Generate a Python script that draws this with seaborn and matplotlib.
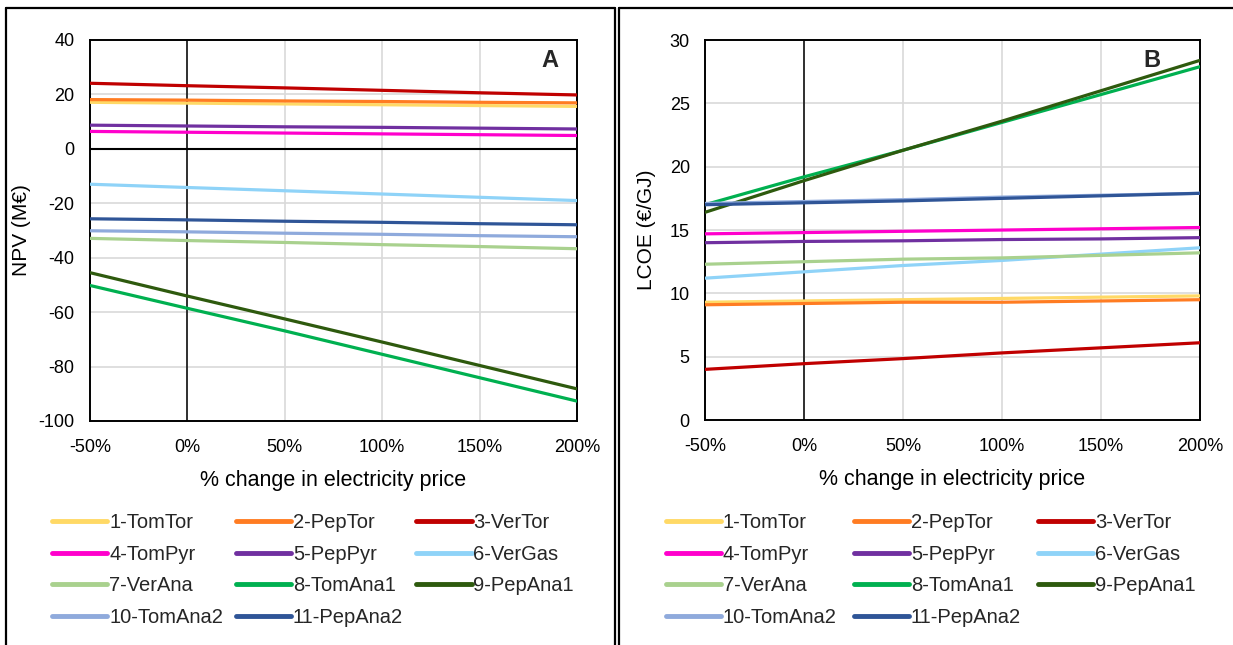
import matplotlib
matplotlib.use("Agg")
import matplotlib.pyplot as plt
from matplotlib.lines import Line2D
import pandas as pd
import seaborn as sns

# % change in electricity price
price_change = [-50, 0, 50, 100, 150, 200]

scenarios = [
    "1-TomTor", "2-PepTor", "3-VerTor", "4-TomPyr", "5-PepPyr", "6-VerGas",
    "7-VerAna", "8-TomAna1", "9-PepAna1", "10-TomAna2", "11-PepAna2",
]
colors = [
    "#FFD966", "#FF7C22", "#C00000", "#FF00CC", "#7030A0", "#8FD3F8",
    "#A9D18E", "#00B050", "#2E5A0E", "#8FAADC", "#2F5597",
]

# panel A: NPV (M€)
npv_tomtor = [17.1, 16.8, 16.5, 16.2, 15.9, 15.6]
npv_peptor = [18.1, 17.9, 17.6, 17.4, 17.1, 16.9]
npv_vertor = [24.1, 23.2, 22.4, 21.5, 20.6, 19.8]
npv_tompyr = [6.4, 6.1, 5.8, 5.5, 5.2, 4.9]
npv_peppyr = [8.7, 8.4, 8.1, 7.9, 7.6, 7.3]
npv_vergas = [-13.0, -14.2, -15.4, -16.6, -17.8, -19.0]
npv_verana = [-32.9, -33.7, -34.4, -35.2, -35.9, -36.7]
npv_tomana1 = [-50.2, -58.6, -66.9, -75.5, -84.1, -92.7]
npv_pepana1 = [-45.5, -54.1, -62.5, -71.0, -79.6, -88.2]
npv_tomana2 = [-30.1, -30.5, -31.0, -31.4, -31.9, -32.3]
npv_pepana2 = [-25.7, -26.1, -26.6, -27.0, -27.5, -27.9]

# panel B: LCOE (€/GJ)
lcoe_tomtor = [9.3, 9.4, 9.5, 9.6, 9.7, 9.8]
lcoe_peptor = [9.1, 9.2, 9.3, 9.3, 9.4, 9.5]
lcoe_vertor = [4.0, 4.45, 4.85, 5.3, 5.7, 6.1]
lcoe_tompyr = [14.7, 14.8, 14.9, 15.0, 15.1, 15.2]
lcoe_peppyr = [14.0, 14.1, 14.15, 14.25, 14.3, 14.4]
lcoe_vergas = [11.2, 11.7, 12.2, 12.6, 13.1, 13.6]
lcoe_verana = [12.3, 12.5, 12.7, 12.8, 13.0, 13.2]
lcoe_tomana1 = [17.0, 19.2, 21.3, 23.5, 25.7, 27.9]
lcoe_pepana1 = [16.4, 18.9, 21.3, 23.6, 26.0, 28.4]
lcoe_tomana2 = [17.1, 17.25, 17.4, 17.6, 17.75, 17.9]
lcoe_pepana2 = [17.0, 17.15, 17.3, 17.5, 17.7, 17.9]

npv_series = [npv_tomtor, npv_peptor, npv_vertor, npv_tompyr, npv_peppyr, npv_vergas,
              npv_verana, npv_tomana1, npv_pepana1, npv_tomana2, npv_pepana2]
lcoe_series = [lcoe_tomtor, lcoe_peptor, lcoe_vertor, lcoe_tompyr, lcoe_peppyr, lcoe_vergas,
               lcoe_verana, lcoe_tomana1, lcoe_pepana1, lcoe_tomana2, lcoe_pepana2]


def to_long(series_list, value_name):
    rows = []
    for name, values in zip(scenarios, series_list):
        for x, v in zip(price_change, values):
            rows.append({"scenario": name, "change": x, value_name: v})
    return pd.DataFrame(rows)


sns.set_theme(style="white")
plt.rcParams["font.family"] = ["Liberation Sans", "DejaVu Sans"]
plt.rcParams["axes.unicode_minus"] = False

fig = plt.figure(figsize=(12.33, 6.45), dpi=100)
ax_a = fig.add_axes([0.073, 0.3473, 0.395, 0.5907])
ax_b = fig.add_axes([0.5718, 0.3488, 0.4015, 0.5891])

palette = dict(zip(scenarios, colors))
panels = [
    (ax_a, to_long(npv_series, "npv"), "npv", "NPV (M€)", (-100, 40), range(-100, 41, 20),
     "A", 0.945, -0.121, 0.0422, 0.65),
    (ax_b, to_long(lcoe_series, "lcoe"), "lcoe", "LCOE (€/GJ)", (0, 30), range(0, 31, 5),
     "B", 0.903, -0.099, 0.540, 0.85),
]

for ax, df, col, ylabel, ylim, yticks, tag, tag_x, ylab_x, leg_x, col_sp in panels:
    sns.lineplot(data=df, x="change", y=col, hue="scenario", palette=palette,
                 hue_order=scenarios, linewidth=2.3, legend=False, ax=ax, zorder=3)
    handles = [Line2D([], [], color=c, linewidth=3.5) for c in colors]
    ax.set_xlim(-50, 200)
    ax.set_ylim(*ylim)
    ax.set_xticks(price_change)
    ax.set_xticklabels([f"{v}%" for v in price_change])
    ax.set_yticks(list(yticks))
    ax.tick_params(axis="both", length=0, labelsize=13, colors="black")
    ax.tick_params(axis="x", pad=13)
    ax.tick_params(axis="y", pad=11)
    ax.grid(True, color="#d9d9d9", linewidth=1.2, zorder=0)
    ax.set_axisbelow(True)
    ax.axvline(0, color="black", linewidth=1.1, zorder=2)
    if ylim[0] < 0:
        ax.axhline(0, color="black", linewidth=1.5, zorder=2)
    for s in ax.spines.values():
        s.set_color("black")
        s.set_linewidth(1.4)
    ax.set_xlabel("% change in electricity price", fontsize=15.5, color="black")
    ax.set_ylabel(ylabel, fontsize=15, color="black")
    ax.xaxis.set_label_coords(0.5, -0.128)
    ax.yaxis.set_label_coords(ylab_x, 0.5)
    ax.text(tag_x, 0.945, tag, transform=ax.transAxes, fontsize=17, fontweight="bold",
            ha="center", va="center", zorder=5)

    # row-major legend order for 3 columns
    order = [0, 3, 6, 9, 1, 4, 7, 10, 2, 5, 8]
    fig.legend([handles[i] for i in order], [scenarios[i] for i in order],
               loc="upper left", bbox_to_anchor=(leg_x, 0.2045), ncol=3, frameon=False,
               fontsize=14.5, handlelength=2.75, handletextpad=0.08, columnspacing=col_sp,
               labelspacing=0.63, borderpad=0, borderaxespad=0)

# table cell borders
top = 1 - 8 / 645
fig.add_artist(Line2D([6 / 1233, 6 / 1233], [0, top], color="black", linewidth=1.6))
fig.add_artist(Line2D([6 / 1233, 615 / 1233], [top, top], color="black", linewidth=1.6))
fig.add_artist(Line2D([615 / 1233, 615 / 1233], [0, top], color="black", linewidth=1.6))
fig.add_artist(Line2D([619 / 1233, 619 / 1233], [0, top], color="black", linewidth=1.6))
fig.add_artist(Line2D([619 / 1233, 1], [top, top], color="black", linewidth=1.6))

fig.savefig("out.png", dpi=100)
